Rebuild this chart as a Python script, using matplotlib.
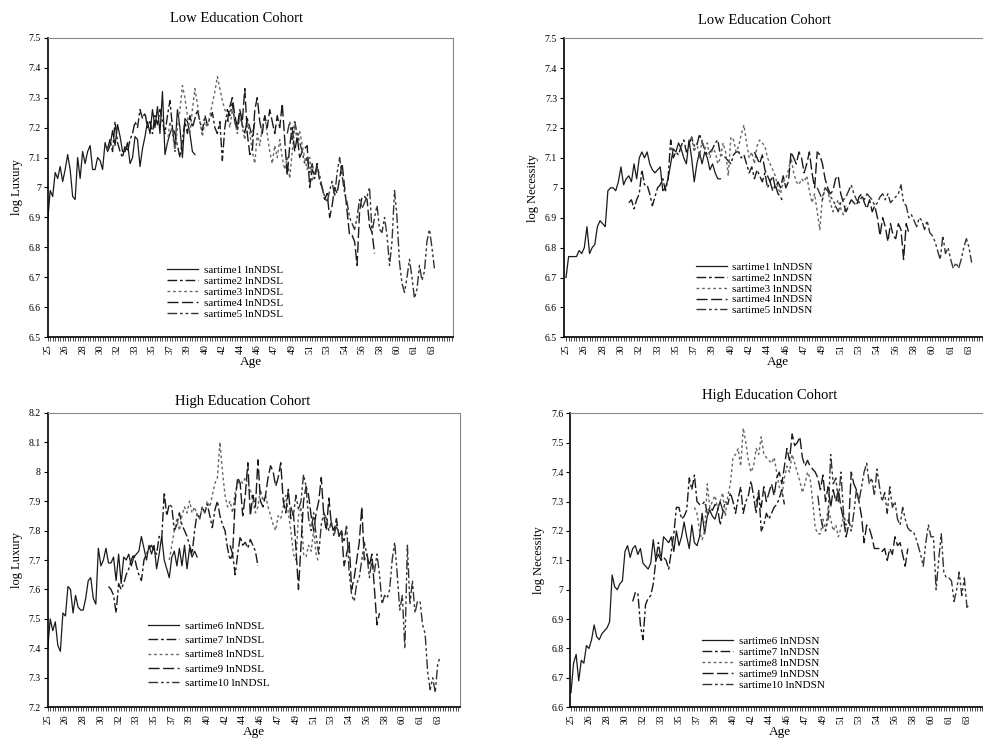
import numpy as np
import matplotlib.pyplot as plt

plt.rcParams['font.family'] = ['Liberation Serif', 'DejaVu Serif']

# --- Data: quarterly values, each cohort observed for 60 quarters ---
# start index of each cohort (quarters after age 25)
starts = [0, 24, 48, 72, 96]
n_quarters = 163

low_lux_names = ['sartime1 lnNDSL', 'sartime2 lnNDSL', 'sartime3 lnNDSL',
                 'sartime4 lnNDSL', 'sartime5 lnNDSL']
low_nec_names = ['sartime1 lnNDSN', 'sartime2 lnNDSN', 'sartime3 lnNDSN',
                 'sartime4 lnNDSN', 'sartime5 lnNDSN']
high_lux_names = ['sartime6 lnNDSL', 'sartime7 lnNDSL', 'sartime8 lnNDSL',
                  'sartime9 lnNDSL', 'sartime10 lnNDSL']
high_nec_names = ['sartime6 lnNDSN', 'sartime7 lnNDSN', 'sartime8 lnNDSN',
                  'sartime9 lnNDSN', 'sartime10 lnNDSN']

lux_low_1 = [6.89, 6.99, 6.97, 7.05, 7.03, 7.07, 7.02, 7.06, 7.11, 7.06,
             6.97, 6.96, 7.10, 7.03, 7.12, 7.08, 7.12, 7.14, 7.06, 7.06,
             7.10, 7.09, 7.06, 7.15, 7.12, 7.14, 7.19, 7.14, 7.21, 7.17,
             7.12, 7.12, 7.15, 7.08, 7.10, 7.17, 7.16, 7.07, 7.13, 7.17,
             7.22, 7.18, 7.26, 7.20, 7.27, 7.18, 7.32, 7.11, 7.15, 7.18,
             7.20, 7.13, 7.26, 7.20, 7.10, 7.23, 7.22, 7.18, 7.12, 7.11]
lux_low_2 = [7.13, 7.16, 7.12, 7.22, 7.15, 7.12, 7.10, 7.14, 7.12, 7.16,
             7.18, 7.22, 7.20, 7.26, 7.23, 7.25, 7.20, 7.22, 7.18, 7.24,
             7.21, 7.26, 7.22, 7.18, 7.24, 7.29, 7.20, 7.18, 7.14, 7.10,
             7.16, 7.22, 7.18, 7.24, 7.20, 7.23, 7.26, 7.22, 7.19, 7.24,
             7.21, 7.23, 7.25, 7.20, 7.18, 7.22, 7.09, 7.20, 7.26, 7.24,
             7.28, 7.22, 7.19, 7.25, 7.21, 7.18, 7.23, 7.20, 7.17, 7.22]
lux_low_3 = [7.15, 7.22, 7.18, 7.12, 7.20, 7.26, 7.34, 7.30, 7.24, 7.18,
             7.26, 7.33, 7.28, 7.22, 7.17, 7.22, 7.20, 7.24, 7.28, 7.32,
             7.37, 7.33, 7.29, 7.26, 7.24, 7.20, 7.26, 7.22, 7.18, 7.24,
             7.20, 7.16, 7.22, 7.18, 7.12, 7.08, 7.18, 7.14, 7.20, 7.24,
             7.18, 7.12, 7.08, 7.14, 7.10, 7.16, 7.10, 7.06, 7.10, 7.03,
             7.12, 7.20, 7.16, 7.19, 7.14, 7.10, 7.06, 7.10, 7.02, 7.05]
lux_low_4 = [7.22, 7.27, 7.30, 7.24, 7.20, 7.26, 7.22, 7.33, 7.18, 7.11,
             7.12, 7.26, 7.30, 7.22, 7.18, 7.24, 7.20, 7.26, 7.22, 7.18,
             7.24, 7.20, 7.28, 7.16, 7.04, 7.14, 7.20, 7.12, 7.17, 7.10,
             7.12, 7.13, 7.14, 7.00, 7.06, 7.04, 7.08, 7.02, 7.00, 6.96,
             6.98, 6.90, 6.94, 7.00, 6.98, 7.03, 7.08, 7.00, 6.92, 6.84,
             6.84, 6.82, 6.74, 6.92, 6.97, 6.97, 6.96, 6.87, 6.85, 6.78]
lux_low_5 = [7.18, 7.22, 7.16, 7.22, 7.18, 7.15, 7.12, 7.08, 7.10, 7.05,
             7.08, 7.03, 7.07, 7.04, 7.00, 6.97, 6.95, 6.99, 7.02, 6.97,
             7.05, 7.10, 7.04, 6.98, 6.95, 6.90, 6.88, 6.86, 6.90, 6.96,
             6.93, 6.95, 6.97, 7.00, 6.85, 6.90, 6.94, 6.86, 6.85, 6.90,
             6.84, 6.74, 6.82, 6.99, 6.90, 6.75, 6.68, 6.65, 6.70, 6.76,
             6.70, 6.63, 6.66, 6.74, 6.69, 6.72, 6.82, 6.86, 6.80, 6.73]

nec_low_1 = [6.70, 6.77, 6.77, 6.77, 6.77, 6.79, 6.78, 6.80, 6.87, 6.78,
             6.80, 6.81, 6.87, 6.89, 6.88, 6.87, 6.99, 7.00, 7.00, 6.99,
             7.02, 7.07, 7.01, 7.03, 7.04, 7.02, 7.08, 7.03, 7.10, 7.12,
             7.10, 7.12, 7.08, 7.06, 7.05, 7.06, 7.07, 6.99, 7.00, 7.03,
             7.08, 7.13, 7.12, 7.15, 7.13, 7.10, 7.08, 7.16, 7.10, 7.02,
             7.08, 7.12, 7.08, 7.12, 7.10, 7.06, 7.08, 7.05, 7.03, 7.03]
nec_low_2 = [6.95, 6.96, 6.93, 6.96, 6.98, 7.06, 7.01, 7.01, 6.98, 6.94,
             6.97, 7.00, 7.01, 7.03, 6.99, 7.03, 7.16, 7.10, 7.12, 7.11,
             7.14, 7.16, 7.12, 7.14, 7.17, 7.14, 7.14, 7.18, 7.15, 7.13,
             7.11, 7.12, 7.13, 7.15, 7.16, 7.11, 7.11, 7.10, 7.09, 7.08,
             7.11, 7.12, 7.12, 7.10, 7.11, 7.08, 7.05, 7.07, 7.03, 7.06,
             7.04, 7.02, 7.05, 7.00, 7.02, 6.99, 7.01, 6.98, 6.97, 6.95]
nec_low_3 = [7.17, 7.12, 7.15, 7.10, 7.16, 7.13, 7.15, 7.10, 7.13, 7.12,
             7.08, 7.10, 7.15, 7.12, 7.04, 7.17, 7.16, 7.12, 7.14, 7.18,
             7.21, 7.15, 7.10, 7.12, 7.08, 7.14, 7.16, 7.15, 7.14, 7.10,
             7.08, 7.06, 7.04, 7.00, 6.98, 7.02, 7.03, 7.06, 7.10, 7.05,
             7.02, 7.01, 7.03, 7.02, 7.04, 6.99, 6.95, 6.98, 6.92, 6.86,
             6.97, 7.00, 6.99, 6.95, 6.92, 6.94, 6.96, 6.93, 6.91, 6.94]
nec_low_4 = [7.12, 7.10, 7.08, 7.11, 7.06, 7.04, 7.02, 7.04, 7.00, 7.02,
             7.00, 7.04, 7.00, 7.02, 7.12, 7.10, 7.08, 7.12, 7.10, 7.05,
             7.08, 7.12, 7.05, 7.00, 7.12, 7.11, 7.08, 7.03, 7.00, 6.98,
             6.99, 7.03, 7.04, 6.98, 6.95, 6.92, 6.94, 6.96, 6.95, 6.94,
             6.97, 6.98, 6.95, 6.93, 6.96, 6.92, 6.94, 6.90, 6.84, 6.90,
             6.87, 6.82, 6.88, 6.84, 6.83, 6.88, 6.86, 6.76, 6.88, 6.85]
nec_low_5 = [7.00, 6.98, 6.96, 7.00, 6.99, 6.97, 6.96, 6.94, 6.92, 6.95,
             6.96, 6.97, 6.99, 7.01, 6.98, 6.96, 6.95, 6.97, 6.96, 6.98,
             6.97, 6.96, 6.94, 6.95, 6.97, 6.98, 6.96, 6.98, 6.95, 6.96,
             6.97, 6.98, 7.01, 6.95, 6.94, 6.90, 6.91, 6.89, 6.87, 6.90,
             6.89, 6.86, 6.89, 6.85, 6.84, 6.82, 6.79, 6.76, 6.84, 6.78,
             6.80, 6.76, 6.73, 6.75, 6.73, 6.76, 6.80, 6.83, 6.80, 6.75]

lux_high_6 = [7.40, 7.50, 7.46, 7.49, 7.41, 7.39, 7.52, 7.51, 7.61, 7.60,
              7.52, 7.58, 7.54, 7.53, 7.53, 7.57, 7.63, 7.64, 7.57, 7.55,
              7.74, 7.68, 7.70, 7.74, 7.69, 7.69, 7.71, 7.63, 7.72, 7.62,
              7.71, 7.70, 7.72, 7.68, 7.71, 7.72, 7.73, 7.78, 7.74, 7.70,
              7.75, 7.72, 7.75, 7.67, 7.72, 7.78, 7.70, 7.67, 7.64, 7.71,
              7.73, 7.68, 7.74, 7.68, 7.75, 7.67, 7.74, 7.71, 7.73, 7.71]
lux_high_7 = [7.61, 7.60, 7.58, 7.52, 7.62, 7.60, 7.62, 7.65, 7.67, 7.70,
              7.72, 7.68, 7.65, 7.63, 7.70, 7.72, 7.74, 7.75, 7.73, 7.72,
              7.78, 7.77, 7.93, 7.85, 7.89, 7.88, 7.80, 7.82, 7.86, 7.82,
              7.80, 7.78, 7.75, 7.72, 7.80, 7.86, 7.84, 7.88, 7.86, 7.89,
              7.85, 7.81, 7.87, 7.90, 7.85, 7.82, 7.80, 7.74, 7.70, 7.72,
              7.65, 7.72, 7.78, 7.75, 7.76, 7.74, 7.77, 7.75, 7.73, 7.68]
lux_high_8 = [7.70, 7.75, 7.80, 7.84, 7.80, 7.85, 7.88, 7.86, 7.90, 7.86,
              7.88, 7.85, 7.84, 7.88, 7.86, 7.90, 7.88, 7.92, 7.96, 7.98,
              8.10, 8.00, 7.92, 7.88, 7.90, 7.86, 7.93, 7.96, 7.97, 7.96,
              7.98, 7.96, 7.94, 7.90, 7.86, 7.88, 7.94, 7.90, 7.92, 7.88,
              7.85, 7.82, 7.80, 7.85, 7.84, 7.88, 7.92, 7.86, 7.80, 7.72,
              7.70, 7.85, 7.88, 7.72, 7.71, 7.75, 7.73, 7.80, 7.72, 7.69]
lux_high_9 = [7.75, 7.72, 7.90, 7.98, 7.96, 7.85, 7.92, 8.03, 7.85, 7.92,
              7.88, 8.04, 7.90, 7.88, 7.92, 7.98, 8.02, 8.00, 7.95, 7.98,
              8.03, 7.90, 7.86, 7.94, 7.84, 7.86, 7.74, 7.60, 7.75, 7.90,
              7.95, 7.92, 7.85, 7.80, 7.86, 7.90, 7.98, 7.85, 7.80, 7.91,
              7.82, 7.80, 7.84, 7.78, 7.80, 7.68, 7.72, 7.76, 7.60, 7.64,
              7.70, 7.76, 7.88, 7.70, 7.72, 7.68, 7.72, 7.60, 7.48, 7.52]
lux_high_10 = [7.88, 7.85, 7.92, 7.87, 7.90, 7.99, 7.95, 7.84, 7.80, 7.86,
               7.78, 7.72, 7.82, 7.86, 7.84, 7.80, 7.83, 7.78, 7.82, 7.78,
               7.80, 7.76, 7.82, 7.66, 7.58, 7.56, 7.62, 7.64, 7.70, 7.76,
               7.72, 7.64, 7.70, 7.66, 7.72, 7.65, 7.55, 7.58, 7.57, 7.60,
               7.70, 7.76, 7.65, 7.53, 7.58, 7.40, 7.75, 7.55, 7.63, 7.52,
               7.56, 7.56, 7.48, 7.45, 7.32, 7.26, 7.30, 7.25, 7.35, 7.37]

nec_high_6 = [6.65, 6.75, 6.78, 6.69, 6.76, 6.75, 6.81, 6.80, 6.83, 6.88,
              6.84, 6.83, 6.85, 6.86, 6.87, 6.89, 7.05, 7.01, 7.00, 7.02,
              7.03, 7.13, 7.15, 7.11, 7.14, 7.15, 7.12, 7.14, 7.09, 7.08,
              7.07, 7.09, 7.17, 7.10, 7.12, 7.10, 7.18, 7.17, 7.16, 7.18,
              7.13, 7.20, 7.15, 7.18, 7.23, 7.18, 7.14, 7.22, 7.16, 7.15,
              7.18, 7.26, 7.19, 7.25, 7.27, 7.25, 7.24, 7.27, 7.30, 7.27]
nec_high_7 = [6.96, 6.99, 6.99, 6.88, 6.83, 6.95, 6.97, 6.98, 7.02, 7.10,
              7.16, 7.10, 7.11, 7.10, 7.07, 7.13, 7.19, 7.28, 7.28, 7.24,
              7.25, 7.27, 7.38, 7.34, 7.39, 7.30, 7.29, 7.29, 7.30, 7.26,
              7.28, 7.27, 7.29, 7.28, 7.22, 7.26, 7.30, 7.29, 7.33, 7.30,
              7.26, 7.31, 7.35, 7.26, 7.30, 7.32, 7.37, 7.32, 7.26, 7.34,
              7.20, 7.22, 7.26, 7.24, 7.26, 7.28, 7.29, 7.31, 7.34, 7.29]
nec_high_8 = [7.28, 7.26, 7.20, 7.17, 7.20, 7.36, 7.28, 7.30, 7.32, 7.28,
              7.30, 7.33, 7.25, 7.32, 7.36, 7.45, 7.46, 7.48, 7.42, 7.55,
              7.50, 7.44, 7.40, 7.42, 7.48, 7.46, 7.52, 7.46, 7.45, 7.44,
              7.43, 7.45, 7.40, 7.35, 7.32, 7.38, 7.42, 7.40, 7.46, 7.43,
              7.40, 7.37, 7.33, 7.36, 7.40, 7.38, 7.30, 7.21, 7.19, 7.19,
              7.24, 7.20, 7.28, 7.24, 7.20, 7.22, 7.18, 7.21, 7.25, 7.20]
nec_high_9 = [7.30, 7.32, 7.28, 7.35, 7.30, 7.33, 7.36, 7.32, 7.38, 7.40,
              7.36, 7.42, 7.48, 7.44, 7.53, 7.49, 7.50, 7.52, 7.45, 7.42,
              7.44, 7.42, 7.41, 7.40, 7.38, 7.34, 7.39, 7.30, 7.35, 7.28,
              7.34, 7.30, 7.34, 7.28, 7.24, 7.18, 7.22, 7.40, 7.36, 7.34,
              7.30, 7.25, 7.16, 7.22, 7.21, 7.18, 7.14, 7.14, 7.14, 7.13,
              7.14, 7.10, 7.14, 7.12, 7.18, 7.15, 7.16, 7.12, 7.08, 7.14]
nec_high_10 = [7.32, 7.25, 7.21, 7.20, 7.24, 7.46, 7.36, 7.38, 7.30, 7.40,
               7.26, 7.22, 7.24, 7.20, 7.26, 7.34, 7.30, 7.35, 7.40, 7.43,
               7.36, 7.38, 7.32, 7.41, 7.35, 7.30, 7.33, 7.26, 7.35, 7.28,
               7.30, 7.24, 7.22, 7.28, 7.24, 7.21, 7.20, 7.20, 7.18, 7.15,
               7.12, 7.08, 7.16, 7.22, 7.18, 7.18, 7.00, 7.10, 7.19, 7.06,
               7.04, 7.04, 7.03, 6.96, 7.00, 7.06, 6.98, 7.04, 6.94, 6.95]

# --- Styles ---
styles = [
    dict(linestyle='-', color='#1a1a1a', lw=0.9),
    dict(linestyle=(0, (7, 2, 2, 2)), color='#1a1a1a', lw=1.0),
    dict(linestyle=(0, (2, 2)), color='#666666', lw=1.0),
    dict(linestyle=(0, (8, 2.5)), color='#1a1a1a', lw=1.0),
    dict(linestyle=(0, (7, 2, 2, 2, 2, 2)), color='#333333', lw=1.0),
]

W, H = 983, 740
fig = plt.figure(figsize=(W / 100, H / 100), dpi=100)


def draw_panel(px, series, names, ylim, title, title_px, ylabel, leg_xy, leg_space):
    ax_left, ax_top, ax_bottom, x0, ppq = px
    right = x0 + 162.6 * ppq
    ax = fig.add_axes([ax_left / W, 1 - ax_bottom / H,
                       (right - ax_left) / W, (ax_bottom - ax_top) / H])
    for s0, vals, name, st in zip(starts, series, names, styles):
        x = s0 + np.arange(len(vals))
        ax.plot(x, vals, label=name, **st)

    ax.set_xlim((ax_left - x0) / ppq, 162.6)
    ax.set_ylim(*ylim)
    ax.set_yticks(np.round(np.linspace(ylim[0], ylim[1], 11), 1))
    ax.yaxis.set_major_formatter(lambda v, p: f'{v:g}')
    ticks = np.arange(0, n_quarters)
    ax.set_xticks(ticks)
    # label every 7th quarter, last label at 63
    ax.set_xticklabels([str(int(25 + i / 4)) if (i % 7 == 0 and i <= 154) else ''
                        for i in ticks], rotation=90, fontsize=7)
    ax.tick_params(axis='y', labelsize=7, length=3, width=0.8, pad=2)
    ax.tick_params(axis='x', length=3, width=0.5, pad=2)

    for side in ['left', 'bottom']:
        ax.spines[side].set_color('black')
        ax.spines[side].set_linewidth(1.2)
    for side in ['top', 'right']:
        ax.spines[side].set_color('#888888')
        ax.spines[side].set_linewidth(0.8)

    ax.set_ylabel(ylabel, fontsize=9)
    ax.set_xlabel('Age', fontsize=9.5, labelpad=1)
    fig.text(title_px[0] / W, 1 - title_px[1] / H, title, fontsize=10.5,
             ha='center', va='center')
    ax.legend(loc='upper left', bbox_to_anchor=leg_xy, frameon=False, fontsize=8,
              handlelength=2.8, handletextpad=0.5, labelspacing=leg_space,
              borderpad=0, borderaxespad=0)
    return ax


draw_panel((47.7, 37.7, 337.3, 47.7, 2.495),
           [lux_low_1, lux_low_2, lux_low_3, lux_low_4, lux_low_5], low_lux_names,
           (6.5, 7.5), 'Low Education Cohort', (237, 19), 'log Luxury',
           (0.294, 0.240), 0.1)

draw_panel((564, 38.3, 337.3, 566, 2.617),
           [nec_low_1, nec_low_2, nec_low_3, nec_low_4, nec_low_5], low_nec_names,
           (6.5, 7.5), 'Low Education Cohort', (765, 20), 'log Necessity',
           (0.308, 0.252), 0.1)

draw_panel((47.7, 412.7, 707.3, 47.7, 2.533),
           [lux_high_6, lux_high_7, lux_high_8, lux_high_9, lux_high_10], high_lux_names,
           (7.2, 8.2), 'High Education Cohort', (243, 401), 'log Luxury',
           (0.244, 0.292), 0.4)

draw_panel((570.3, 413.3, 707.3, 571, 2.571),
           [nec_high_6, nec_high_7, nec_high_8, nec_high_9, nec_high_10], high_nec_names,
           (6.6, 7.6), 'High Education Cohort', (770, 395), 'log Necessity',
           (0.315, 0.241), 0.1)

plt.savefig('out.png', dpi=100)
